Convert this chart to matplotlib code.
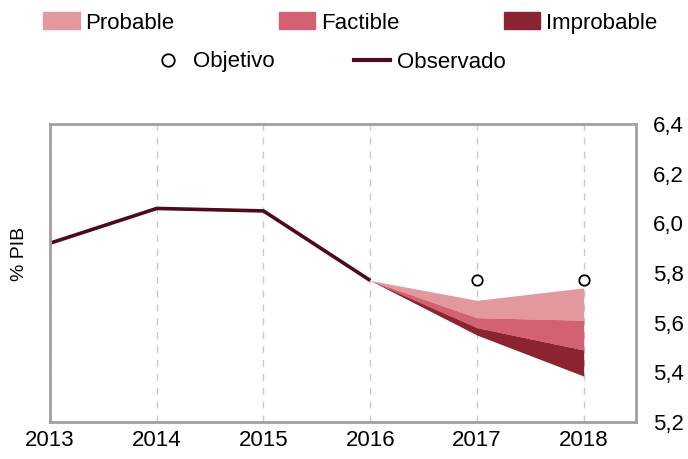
import matplotlib
matplotlib.use("Agg")
import matplotlib.pyplot as plt
from matplotlib.patches import Patch
from matplotlib.lines import Line2D

# datos
anios_obs = [2013, 2014, 2015, 2016]
observado = [5.92, 6.06, 6.05, 5.77]

anios_proy = [2016, 2017, 2018]
probable_sup = [5.77, 5.69, 5.74]
factible_sup = [5.77, 5.62, 5.61]
improbable_sup = [5.77, 5.58, 5.49]
improbable_inf = [5.77, 5.55, 5.385]

anios_obj = [2017, 2018]
objetivo = [5.77, 5.77]

xticks = [2013, 2014, 2015, 2016, 2017, 2018]
yticks = [5.2, 5.4, 5.6, 5.8, 6.0, 6.2, 6.4]

c_prob = "#E3979F"
c_fact = "#D46171"
c_impr = "#8B2333"
c_obs = "#4E0A1B"
c_spine = "#A0A0A0"

fnt = ["Liberation Sans", "DejaVu Sans"]
fs = 16

fig = plt.figure(figsize=(6.88, 4.59), dpi=100)
ax = fig.add_axes([50/688, 37/459, 586/688, 298/459])

ax.fill_between(anios_proy, factible_sup, probable_sup, color=c_prob, lw=0)
ax.fill_between(anios_proy, improbable_sup, factible_sup, color=c_fact, lw=0)
ax.fill_between(anios_proy, improbable_inf, improbable_sup, color=c_impr, lw=0)
ax.plot(anios_obs, observado, color=c_obs, lw=2.6, solid_capstyle="butt")
ax.plot(anios_obj, objetivo, ls="none", marker="o", ms=7.5, mfc="white", mec="black", mew=1.3)

ax.set_xlim(2013, 2018.49)
ax.set_ylim(5.2, 6.4)
ax.set_xticks(xticks)
ax.set_yticks(yticks)
ax.set_yticklabels([f"{v:.1f}".replace(".", ",") for v in yticks], family=fnt, fontsize=fs)
ax.set_xticklabels([str(v) for v in xticks], family=fnt, fontsize=fs)
ax.yaxis.tick_right()
ax.tick_params(axis="y", length=0, pad=12)
ax.tick_params(axis="x", length=0, pad=6)
ax.grid(axis="x", ls=(0, (5, 5)), color="#C8C8C8", lw=1)
ax.set_axisbelow(True)
for s in ax.spines.values():
    s.set_color(c_spine)
    s.set_linewidth(2)

fig.text(20/688, 1 - 254/459, "% PIB", rotation=90, ha="center", va="center",
         family="Liberation Sans", fontsize=14)

h1 = [Patch(color=c_prob, label="Probable"),
      Patch(color=c_fact, label="Factible"),
      Patch(color=c_impr, label="Improbable")]
leg1 = fig.legend(handles=h1, loc="center", bbox_to_anchor=(350/688, 1 - 23/459),
                  ncol=3, frameon=False, prop={"family": fnt, "size": fs},
                  handlelength=1.65, handleheight=0.8, handletextpad=0.25,
                  columnspacing=4.7, borderpad=0)
h2 = [Line2D([], [], ls="none", marker="o", ms=9, mfc="white", mec="black", mew=1.3, label="Objetivo"),
      Line2D([], [], color=c_obs, lw=3, label="Observado")]
leg2 = fig.legend(handles=h2, loc="center", bbox_to_anchor=(328/688, 1 - 62/459),
                  ncol=2, frameon=False, prop={"family": fnt, "size": fs},
                  handlelength=1.6, handletextpad=0.3, columnspacing=3.6, borderpad=0)

fig.savefig("out.png", dpi=100)
